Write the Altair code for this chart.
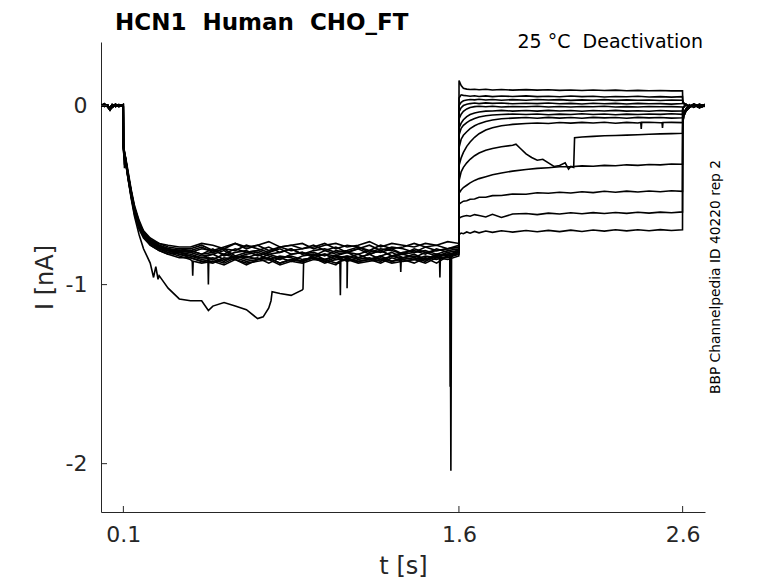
import altair as alt
import pandas as pd

# ---------------- time grids (s) ----------------
T_HOLD = [0.0, 0.015, 0.03, 0.04, 0.05, 0.065, 0.08, 0.0995]
T_ACT = [0.1005, 0.105, 0.11, 0.12, 0.135, 0.15, 0.17, 0.19, 0.22, 0.26, 0.3, 0.35,
         0.4, 0.45, 0.5, 0.55, 0.6, 0.65, 0.7, 0.75, 0.8, 0.85, 0.9, 0.95,
         1.0, 1.05, 1.1, 1.15, 1.2, 1.25, 1.3, 1.35, 1.4, 1.45, 1.5, 1.55, 1.5995]
T_DEACT = [1.6005, 1.61, 1.62, 1.635, 1.65, 1.67, 1.69, 1.72, 1.75, 1.79,
           1.84, 1.9, 1.95, 2.0, 2.05, 2.1, 2.15, 2.2, 2.25, 2.3,
           2.35, 2.4, 2.45, 2.5, 2.55, 2.5995]
T_TAIL = [2.6005, 2.605, 2.615, 2.63, 2.65, 2.675, 2.7]

# ---------------- holding current (nA) ----------------
HOLD_A = [0.005, -0.005, 0.003, -0.02, -0.01, 0.004, -0.003, 0.002]
HOLD_B = [-0.004, 0.006, -0.005, -0.012, 0.005, -0.006, 0.005, -0.004]
HOLD_C = [0.0, 0.01, -0.008, -0.025, -0.004, 0.008, -0.006, 0.006]

# ---------------- activation step 0.1 - 1.6 s (nA) ----------------
ACT_01 = [-0.23, -0.26, -0.30, -0.37, -0.48, -0.57, -0.65, -0.71, -0.75, -0.77, -0.79, -0.80,
          -0.80, -0.78, -0.81, -0.79, -0.77, -0.80, -0.78, -0.81, -0.79, -0.78, -0.80, -0.79,
          -0.77, -0.80, -0.78, -0.79, -0.81, -0.78, -0.80, -0.79, -0.77, -0.79, -0.78, -0.80, -0.79]
ACT_02 = [-0.24, -0.28, -0.31, -0.39, -0.50, -0.59, -0.67, -0.72, -0.76, -0.79, -0.80, -0.81,
          -0.81, -0.83, -0.80, -0.84, -0.82, -0.81, -0.84, -0.82, -0.80, -0.83, -0.82, -0.84,
          -0.81, -0.83, -0.82, -0.80, -0.83, -0.81, -0.84, -0.82, -0.81, -0.83, -0.80, -0.82, -0.81]
ACT_03 = [-0.22, -0.27, -0.29, -0.38, -0.49, -0.58, -0.66, -0.70, -0.75, -0.78, -0.80, -0.82,
          -0.83, -0.85, -0.86, -0.83, -0.85, -0.84, -0.86, -0.83, -0.85, -0.87, -0.84, -0.83,
          -0.86, -0.84, -0.85, -0.83, -0.86, -0.84, -0.82, -0.85, -0.84, -0.86, -0.83, -0.84, -0.82]
ACT_04 = [-0.25, -0.33, -0.31, -0.40, -0.51, -0.60, -0.68, -0.73, -0.77, -0.80, -0.81, -0.83,
          -0.85, -0.87, -0.88, -0.85, -0.86, -0.89, -0.86, -0.85, -0.88, -0.86, -0.87, -0.85,
          -0.88, -0.86, -0.85, -0.87, -0.86, -0.88, -0.85, -0.87, -0.86, -0.85, -0.88, -0.84, -0.83]
ACT_05 = [-0.23, -0.27, -0.30, -0.38, -0.48, -0.58, -0.65, -0.71, -0.76, -0.79, -0.81, -0.80,
          -0.81, -0.79, -0.82, -0.80, -0.81, -0.78, -0.80, -0.82, -0.79, -0.81, -0.80, -0.78,
          -0.81, -0.79, -0.82, -0.80, -0.78, -0.81, -0.79, -0.80, -0.82, -0.79, -0.81, -0.80, -0.78]
ACT_06 = [-0.24, -0.29, -0.32, -0.39, -0.50, -0.60, -0.67, -0.73, -0.77, -0.80, -0.82, -0.81,
          -0.82, -0.84, -0.83, -0.81, -0.85, -0.83, -0.82, -0.84, -0.86, -0.83, -0.82, -0.85,
          -0.83, -0.84, -0.82, -0.85, -0.83, -0.81, -0.84, -0.83, -0.85, -0.82, -0.84, -0.82, -0.80]
ACT_07 = [-0.22, -0.26, -0.29, -0.36, -0.47, -0.56, -0.64, -0.70, -0.74, -0.77, -0.78, -0.79,
          -0.79, -0.77, -0.78, -0.80, -0.77, -0.79, -0.78, -0.76, -0.79, -0.78, -0.77, -0.80,
          -0.78, -0.77, -0.79, -0.78, -0.76, -0.79, -0.77, -0.78, -0.79, -0.77, -0.78, -0.76, -0.77]
ACT_08 = [-0.23, -0.35, -0.31, -0.38, -0.49, -0.59, -0.66, -0.72, -0.76, -0.79, -0.80, -0.82,
          -0.84, -0.86, -0.85, -0.87, -0.84, -0.86, -0.85, -0.88, -0.85, -0.84, -0.86, -0.85,
          -0.87, -0.85, -0.84, -0.86, -0.85, -0.87, -0.84, -0.86, -0.85, -0.87, -0.84, -0.85, -0.83]
ACT_09 = [-0.24, -0.28, -0.30, -0.39, -0.50, -0.59, -0.67, -0.72, -0.77, -0.80, -0.82, -0.84,
          -0.86, -0.88, -0.87, -0.89, -0.86, -0.88, -0.87, -0.86, -0.89, -0.87, -0.88, -0.86,
          -0.87, -0.89, -0.86, -0.88, -0.87, -0.86, -0.88, -0.87, -0.86, -0.88, -0.85, -0.86, -0.84]
ACT_10 = [-0.23, -0.27, -0.31, -0.38, -0.48, -0.57, -0.65, -0.71, -0.75, -0.78, -0.80, -0.81,
          -0.82, -0.80, -0.81, -0.83, -0.80, -0.82, -0.81, -0.79, -0.82, -0.80, -0.83, -0.81,
          -0.80, -0.82, -0.81, -0.79, -0.82, -0.80, -0.81, -0.83, -0.80, -0.82, -0.81, -0.80, -0.79]
ACT_11 = [-0.22, -0.26, -0.30, -0.37, -0.49, -0.58, -0.66, -0.72, -0.76, -0.79, -0.81, -0.83,
          -0.84, -0.85, -0.83, -0.86, -0.84, -0.85, -0.83, -0.86, -0.84, -0.85, -0.87, -0.84,
          -0.83, -0.86, -0.84, -0.85, -0.83, -0.86, -0.84, -0.85, -0.83, -0.86, -0.84, -0.83, -0.81]
ACT_12 = [-0.24, -0.28, -0.31, -0.40, -0.52, -0.62, -0.72, -0.80, -0.88, -0.95, -1.02, -1.08,
          -1.09, -1.09, -1.12, -1.10, -1.12, -1.14, -1.19, -1.13, -1.05, -1.06, -1.03, -0.85,
          -0.86, -0.84, -0.87, -0.85, -0.86, -0.84, -0.87, -0.85, -0.86, -0.84, -0.85, -0.83, -0.82]
ACT_13 = [-0.23, -0.27, -0.30, -0.38, -0.50, -0.59, -0.67, -0.73, -0.78, -0.81, -0.83, -0.85,
          -0.85, -0.87, -0.86, -0.88, -0.85, -0.87, -0.86, -0.85, -0.88, -0.86, -0.87, -0.85,
          -0.86, -0.88, -0.85, -0.87, -0.86, -0.85, -0.87, -0.86, -0.88, -0.85, -0.86, -0.84, -0.82]
ACT_14 = [-0.25, -0.30, -0.32, -0.40, -0.51, -0.61, -0.69, -0.74, -0.78, -0.81, -0.83, -0.82,
          -0.81, -0.83, -0.82, -0.80, -0.84, -0.82, -0.81, -0.83, -0.82, -0.80, -0.83, -0.82,
          -0.84, -0.81, -0.82, -0.83, -0.81, -0.82, -0.80, -0.83, -0.82, -0.81, -0.83, -0.81, -0.80]

# ---------------- deactivation steps 1.6 - 2.6 s (nA) ----------------
DEA_01 = [0.14, 0.112, 0.097, 0.092, 0.090, 0.091, 0.088, 0.091, 0.087, 0.090, 0.086, 0.089, 0.086,
          0.088, 0.085, 0.087, 0.084, 0.087, 0.084, 0.086, 0.083, 0.085, 0.083, 0.084, 0.082, 0.083]
DEA_02 = [0.042, 0.060, 0.057, 0.055, 0.052, 0.055, 0.051, 0.054, 0.050, 0.053, 0.051, 0.054, 0.050,
          0.052, 0.049, 0.053, 0.050, 0.052, 0.048, 0.051, 0.049, 0.052, 0.048, 0.050, 0.047, 0.050]
DEA_03 = [0.000, 0.018, 0.027, 0.031, 0.034, 0.032, 0.035, 0.031, 0.034, 0.030, 0.033, 0.030, 0.034,
          0.031, 0.033, 0.029, 0.032, 0.030, 0.033, 0.029, 0.032, 0.030, 0.031, 0.028, 0.031, 0.030]
DEA_04 = [-0.035, -0.012, 0.000, 0.007, 0.011, 0.014, 0.011, 0.015, 0.012, 0.014, 0.010, 0.013, 0.011,
          0.014, 0.010, 0.012, 0.009, 0.013, 0.010, 0.012, 0.009, 0.012, 0.010, 0.011, 0.008, 0.011]
DEA_05 = [-0.075, -0.048, -0.032, -0.019, -0.011, -0.006, -0.004, -0.007, -0.004, -0.008, -0.005, -0.007, -0.004,
          -0.008, -0.005, -0.008, -0.005, -0.007, -0.004, -0.008, -0.006, -0.008, -0.005, -0.007, -0.006, -0.008]
DEA_06 = [-0.125, -0.098, -0.079, -0.062, -0.050, -0.041, -0.036, -0.031, -0.030, -0.027, -0.031, -0.028, -0.031,
          -0.027, -0.030, -0.028, -0.032, -0.028, -0.030, -0.027, -0.031, -0.029, -0.032, -0.028, -0.031, -0.030]
DEA_07 = [-0.165, -0.127, -0.110, -0.095, -0.083, -0.072, -0.064, -0.057, -0.053, -0.050, -0.047, -0.050, -0.047,
          -0.051, -0.048, -0.050, -0.046, -0.050, -0.047, -0.051, -0.048, -0.050, -0.047, -0.049, -0.046, -0.049]
DEA_08 = [-0.235, -0.188, -0.166, -0.146, -0.129, -0.113, -0.101, -0.089, -0.081, -0.074, -0.070, -0.067, -0.071,
          -0.066, -0.070, -0.067, -0.071, -0.066, -0.069, -0.067, -0.071, -0.066, -0.069, -0.067, -0.070, -0.068]
DEA_09 = [-0.335, -0.292, -0.262, -0.228, -0.203, -0.177, -0.157, -0.137, -0.124, -0.113, -0.105, -0.100, -0.097,
          -0.100, -0.095, -0.098, -0.094, -0.097, -0.093, -0.099, -0.094, -0.097, -0.093, -0.096, -0.094, -0.095]
DEA_10 = [-0.42, -0.37, -0.345, -0.32, -0.30, -0.28, -0.265, -0.25, -0.24, -0.23, -0.222, -0.27, -0.305,
          -0.32, -0.335, -0.34, -0.176, -0.172, -0.169, -0.167, -0.165, -0.163, -0.160, -0.158, -0.157, -0.155]
DEA_11 = [-0.49, -0.472, -0.458, -0.445, -0.432, -0.418, -0.408, -0.397, -0.386, -0.377, -0.366, -0.357, -0.351,
          -0.347, -0.342, -0.342, -0.337, -0.339, -0.334, -0.336, -0.331, -0.334, -0.329, -0.331, -0.326, -0.328]
DEA_12 = [-0.55, -0.542, -0.534, -0.532, -0.523, -0.522, -0.512, -0.512, -0.503, -0.502, -0.494, -0.495, -0.487,
          -0.49, -0.484, -0.488, -0.481, -0.486, -0.479, -0.484, -0.478, -0.483, -0.477, -0.481, -0.476, -0.479]
DEA_13 = [-0.63, -0.622, -0.618, -0.614, -0.618, -0.609, -0.614, -0.622, -0.607, -0.625, -0.606, -0.603, -0.609,
          -0.601, -0.606, -0.599, -0.604, -0.598, -0.603, -0.597, -0.602, -0.596, -0.601, -0.595, -0.599, -0.594]
DEA_14 = [-0.72, -0.712, -0.716, -0.706, -0.713, -0.703, -0.711, -0.701, -0.708, -0.699, -0.707, -0.698, -0.705,
          -0.697, -0.704, -0.696, -0.703, -0.695, -0.701, -0.694, -0.700, -0.694, -0.699, -0.693, -0.698, -0.694]

# ---------------- return to holding after 2.6 s (nA) ----------------
TAIL_A = [0.025, 0.012, 0.004, -0.006, 0.008, -0.004, 0.006]
TAIL_B = [-0.02, -0.008, 0.006, -0.01, 0.004, -0.012, 0.0]
TAIL_C = [-0.095, -0.06, -0.03, -0.012, 0.005, -0.008, 0.004]
TAIL_D = [-0.07, -0.04, -0.018, 0.004, -0.01, 0.008, -0.006]

# ---------------- extra read points (spikes, jumps) ----------------
EXTRA_TRACE = [12, 12, 12, 12, 12, 12, 12, 12, 12, 12,
               3, 3, 3, 9, 9, 9, 9, 9, 9, 4, 4, 4, 8, 8, 8, 13, 13, 13,
               6, 6, 6, 11, 11, 11, 9, 9, 9, 9, 9, 9,
               10, 10, 10, 10, 10, 10, 10, 10, 10]
EXTRA_T = [0.205, 0.235, 0.245, 0.255, 0.48, 0.725, 0.76, 0.765, 0.903, 0.906,
           0.478, 0.48, 0.482, 0.408, 0.41, 0.412, 1.068, 1.07, 1.072, 1.098, 1.10, 1.102,
           1.513, 1.515, 1.517, 1.338, 1.34, 1.342,
           1.561, 1.564, 1.567, 1.559, 1.561, 1.563, 2.413, 2.415, 2.417, 2.508, 2.51, 2.512,
           1.855, 1.875, 1.925, 1.975, 2.025, 2.075, 2.09, 2.113, 2.117]
EXTRA_I = [-0.84, -0.96, -0.90, -0.97, -1.145, -1.18, -1.09, -1.04, -1.025, -0.86,
           -0.85, -1.00, -0.85, -0.87, -0.95, -0.87, -0.87, -1.06, -0.87, -0.86, -1.02, -0.86,
           -0.85, -0.96, -0.85, -0.86, -0.93, -0.86,
           -0.83, -2.04, -0.83, -0.84, -1.57, -0.84, -0.094, -0.13, -0.094, -0.095, -0.125, -0.095,
           -0.216, -0.24, -0.29, -0.30, -0.34, -0.32, -0.355, -0.345, -0.18]

X_TICKS = [0.1, 1.6, 2.6]
Y_TICKS = [-2, -1, 0]

NB = "\u00a0"
TITLE = "HCN1" + NB * 2 + "Human" + NB * 2 + "CHO_FT"
SUBTITLE = "25 °C" + NB * 2 + "Deactivation"
SIDE = "BBP Channelpedia ID 40220 rep 2"

# ---------------- assemble table ----------------
ACTS = [ACT_01, ACT_02, ACT_03, ACT_04, ACT_05, ACT_06, ACT_07,
        ACT_08, ACT_09, ACT_10, ACT_11, ACT_12, ACT_13, ACT_14]
DEAS = [DEA_01, DEA_02, DEA_03, DEA_04, DEA_05, DEA_06, DEA_07,
        DEA_08, DEA_09, DEA_10, DEA_11, DEA_12, DEA_13, DEA_14]
HOLDS = [HOLD_A, HOLD_B, HOLD_C]
TAILS = [TAIL_A, TAIL_A, TAIL_A, TAIL_A, TAIL_B, TAIL_B, TAIL_B, TAIL_B, TAIL_B,
         TAIL_C, TAIL_D, TAIL_C, TAIL_D, TAIL_C]

rows = []
for k in range(14):
    a, d = ACTS[k], DEAS[k]
    assert len(a) == len(T_ACT), ("act", k + 1, len(a))
    assert len(d) == len(T_DEACT), ("deact", k + 1, len(d))
    for t, v in zip(T_HOLD, HOLDS[k % 3]):
        rows.append({"trace": k + 1, "t": t, "i": v})
    for t, v in zip(T_ACT, a):
        rows.append({"trace": k + 1, "t": t, "i": v})
    for t, v in zip(T_DEACT, d):
        rows.append({"trace": k + 1, "t": t, "i": v})
    for t, v in zip(T_TAIL, TAILS[k]):
        rows.append({"trace": k + 1, "t": t, "i": v})
for tr, t, v in zip(EXTRA_TRACE, EXTRA_T, EXTRA_I):
    rows.append({"trace": tr, "t": t, "i": v})
df = pd.DataFrame(rows).sort_values(["trace", "t"])

W, H = 604, 470
AX = "#262626"
FONT = "DejaVu Sans"

xs = alt.Scale(domain=[0, 2.7], nice=False, zero=False)
ys = alt.Scale(domain=[-2.27, 0.355], nice=False, zero=False)

X_AXIS = alt.Axis(values=X_TICKS, labelExpr="'' + datum.value", title="t [s]",
                  titleY=61, titleBaseline="alphabetic")
Y_AXIS = alt.Axis(values=Y_TICKS, labelExpr="'' + datum.value", title="I [nA]",
                  titleX=-56, titleBaseline="middle")

lines = alt.Chart(df).mark_line(color="black", strokeWidth=1.6, clip=True).encode(
    x=alt.X("t:Q", scale=xs, axis=X_AXIS),
    y=alt.Y("i:Q", scale=ys, axis=Y_AXIS),
    detail="trace:N",
    order="t:Q",
)

xticks = alt.Chart(pd.DataFrame({"t": X_TICKS})).mark_rule(color=AX, strokeWidth=1).encode(
    x=alt.X("t:Q", scale=xs, axis=X_AXIS), y=alt.value(H), y2=alt.value(H - 6))
yticks = alt.Chart(pd.DataFrame({"i": Y_TICKS})).mark_rule(color=AX, strokeWidth=1).encode(
    y=alt.Y("i:Q", scale=ys, axis=Y_AXIS), x=alt.value(0), x2=alt.value(6))

title = alt.Chart(pd.DataFrame({"s": [TITLE]})).mark_text(
    align="left", baseline="alphabetic", fontSize=23, fontWeight="bold", font=FONT, color="black"
).encode(text="s:N", x=alt.value(14), y=alt.value(-12))
sub = alt.Chart(pd.DataFrame({"s": [SUBTITLE]})).mark_text(
    align="right", baseline="alphabetic", fontSize=19, font=FONT, color="black"
).encode(text="s:N", x=alt.value(602), y=alt.value(6))
side = alt.Chart(pd.DataFrame({"s": [SIDE]})).mark_text(
    align="center", baseline="middle", fontSize=13.8, font=FONT, color="black", angle=270
).encode(text="s:N", x=alt.value(615), y=alt.value(235))

chart = alt.layer(lines, xticks, yticks, title, sub, side).properties(
    width=W, height=H,
    autosize=alt.AutoSizeParams(type="none"),
    padding={"left": 93, "top": 34, "right": 60, "bottom": 70},
).configure_view(stroke=None).configure_axis(
    grid=False, ticks=False, domainColor=AX, domainWidth=1,
    labelFont=FONT, labelFontSize=22, labelColor=AX,
    titleFont=FONT, titleFontSize=24, titleFontWeight="normal", titleColor=AX,
).configure_axisX(labelPadding=12).configure_axisY(labelPadding=14)

chart.save("out.html", embed_options={"renderer": "svg", "actions": False})
